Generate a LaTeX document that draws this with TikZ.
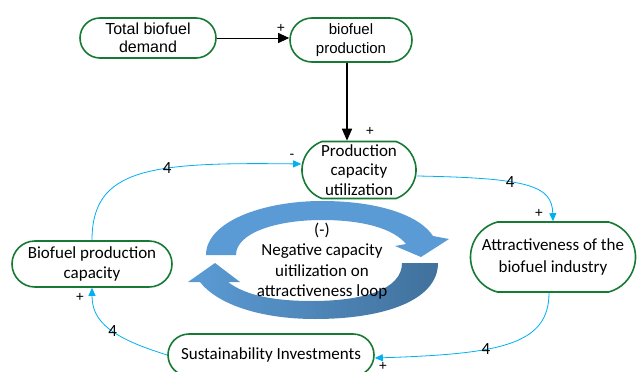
\documentclass[tikz,border=0pt]{standalone}
\usepackage{fontspec}
\setmainfont{Carlito}
\newfontfamily\arialfont{Liberation Sans}
\usetikzlibrary{arrows.meta,shapes.misc}
\definecolor{boxgreen}{RGB}{22,122,52}
\definecolor{linkblue}{RGB}{0,176,240}
\definecolor{loopblue}{RGB}{91,155,213}
\definecolor{loopdark}{RGB}{65,113,156}

\begin{document}
\begin{tikzpicture}[x=1pt,y=-1pt,
    var/.style={rounded rectangle,draw=boxgreen,line width=1.6pt,fill=white,align=center,inner sep=0pt,font=\fontsize{17}{20.5}\selectfont},
    link/.style={linkblue,line width=0.8pt,-{Triangle[length=8pt,width=7pt]}},
    sgn/.style={font=\arialfont\fontsize{14}{14}\selectfont,inner sep=0pt},
    num/.style={text=black,font=\fontsize{17}{17}\selectfont,inner sep=0pt}]
    \useasboundingbox (0,0) rectangle (638,372);

    % loop arrows
    \fill[loopblue] (206,255) .. controls (206,222) and (262,201) .. (322,201)
        .. controls (380,201) and (420,216) .. (433,236) -- (449,239) -- (421,257) -- (395,246) -- (406,244)
        .. controls (394,229) and (364,220) .. (322,220) .. controls (276,220) and (236,233) .. (236,255) -- cycle;
    \shade[left color=loopblue,right color=loopdark] (438,263) .. controls (438,300) and (385,319) .. (315,319)
        .. controls (262,319) and (218,305) .. (200,282) -- (188,282) -- (215,263) -- (240,282) -- (228,282)
        .. controls (246,296) and (276,301) .. (312,301) .. controls (362,301) and (402,290) .. (402,263) -- cycle;
    \node[align=center,font=\fontsize{17}{20.5}\selectfont] (loop) at (322,261) {(-)\\Negative capacity\\uitilization on\\attractiveness loop};

    \node[var,minimum width=136pt,minimum height=40pt,font=\arialfont\fontsize{16}{18.5}\selectfont] (demand) at (148,38) {Total biofuel\\demand};
    \node[var,minimum width=122pt,minimum height=44pt,font=\arialfont\fontsize{15}{19}\selectfont] (prod) at (351,40) {biofuel\\production};
    \node[var,minimum width=114pt,minimum height=57pt,rounded rectangle arc length=140,font=\fontsize{17}{19.5}\selectfont] (pcu) at (359,170) {Production\\capacity\\utilization};
    \node[var,minimum width=165pt,minimum height=70pt,rounded rectangle arc length=150,font=\fontsize{17}{22}\selectfont] (attr) at (553,257) {Attractiveness of the\\biofuel industry};
    \node[var,minimum width=160pt,minimum height=46pt] (bpc) at (92,264) {Biofuel production\\capacity};
    \node[var,minimum width=206pt,minimum height=42pt] (sust) at (271,355) {Sustainability Investments};

    % black links
    \draw[line width=0.8pt,-{Triangle[length=11pt,width=10pt]}] (demand.east) -- (demand.east -| prod.west);
    \node[sgn] (s1) at (281,28) {+};
    \draw[line width=1.6pt,-{Triangle[length=12pt,width=10pt]}] ([xshift=-4pt]prod.south) -- ([xshift=-4pt]prod.south |- pcu.north);
    \node[sgn] (s2) at (370,131) {+};

    % blue links
    \draw[link] (bpc.north) .. controls (92,168) and (150,162) .. node[num,pos=0.62] (n1) {4} ([yshift=6pt]pcu.west);
    \node[sgn] (s3) at (292,156) {-};
    \draw[link] ([yshift=-6pt]pcu.east) .. controls (530,178) and (552,186) .. node[num,pos=0.38] (n2) {4} (attr.north);
    \node[sgn] (s4) at (539,213) {+};
    \draw[link] ([xshift=-4pt]attr.south) .. controls (549,345) and (500,354) .. node[num,pos=0.62] (n3) {4} ([yshift=-3pt]sust.east);
    \node[sgn] (s5) at (383,366) {+};
    \draw[link] (sust.west) .. controls (112,338) and (92,322) .. node[num,pos=0.45] (n4) {4} (bpc.south);
    \node[sgn] (s6) at (80,297) {+};
\end{tikzpicture}
\end{document}
